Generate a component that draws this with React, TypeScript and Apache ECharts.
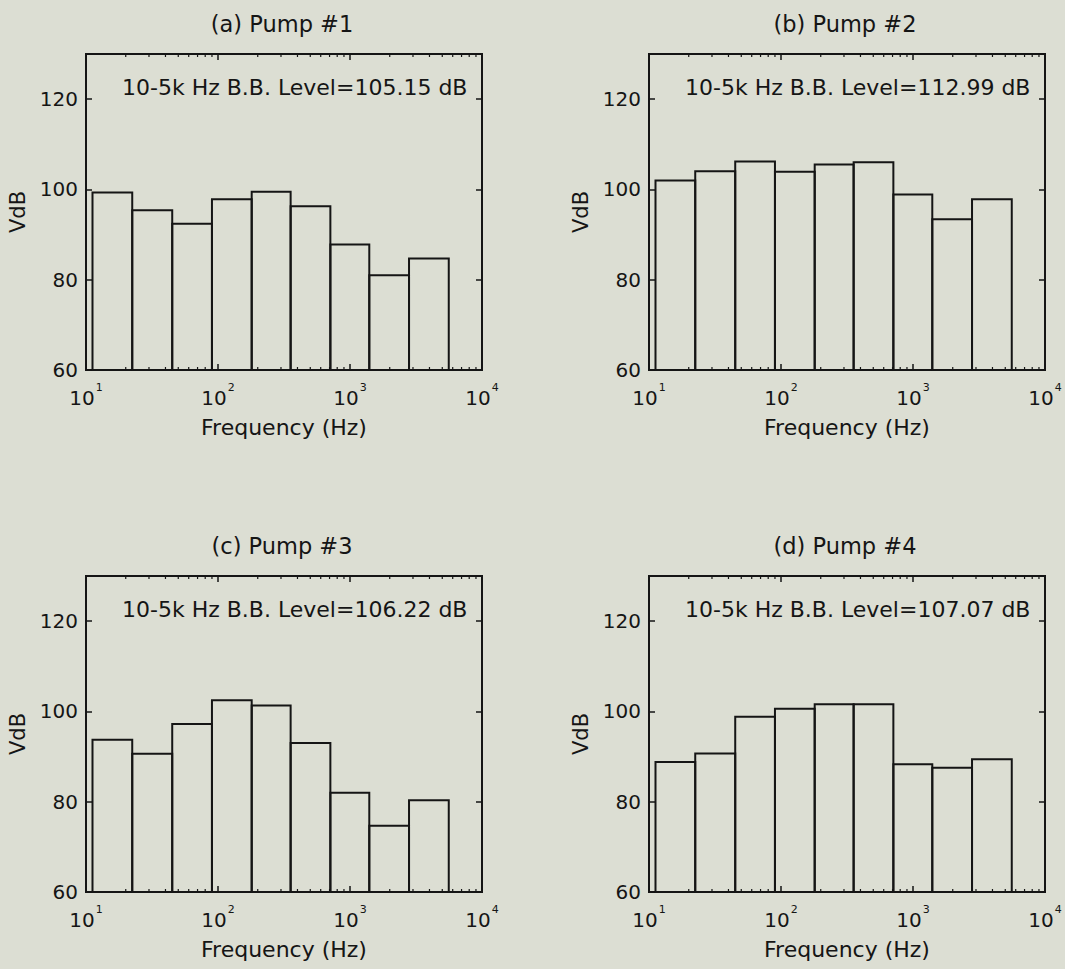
import React, { useEffect, useRef } from "react";
import * as echarts from "echarts";

// Octave band edges (Hz) — lower edge of each bar, plus final upper edge
const bandEdges = [11.2, 22.4, 45, 90, 180, 355, 710, 1400, 2800, 5600];

// Octave band levels (VdB) per pump
const pump1 = [99.3, 95.4, 92.4, 97.8, 99.5, 96.3, 87.8, 81.0, 84.7];
const pump2 = [102.0, 104.0, 106.2, 103.9, 105.5, 106.0, 98.9, 93.4, 97.8];
const pump3 = [93.7, 90.6, 97.2, 102.5, 101.3, 93.0, 82.0, 74.7, 80.3];
const pump4 = [88.8, 90.7, 98.8, 100.6, 101.6, 101.6, 88.3, 87.5, 89.4];

const panelTitles = ["(a) Pump #1", "(b) Pump #2", "(c) Pump #3", "(d) Pump #4"];
const bbLevels = ["105.15", "112.99", "106.22", "107.07"];

const yMin = 60;
const yMax = 130;
const yInterval = 20;
const xMin = 10;
const xMax = 10000;
const minorTickValues = [
  20, 30, 40, 50, 60, 70, 80, 90,
  200, 300, 400, 500, 600, 700, 800, 900,
  2000, 3000, 4000, 5000, 6000, 7000, 8000, 9000,
];

const FONT = "'DejaVu Sans', 'Liberation Sans', Arial, sans-serif";
const BG = "#dcded3";
const INK = "#151515";

const panels = [
  { left: 86, top: 54 },
  { left: 649, top: 54 },
  { left: 86, top: 576 },
  { left: 649, top: 576 },
];
const W = 396;
const H = 316;

export default function App() {
  const ref = useRef<HTMLDivElement>(null);

  useEffect(() => {
    if (!ref.current) return;
    document.body.style.margin = "0";
    document.body.style.background = BG;
    const chart = echarts.init(ref.current, null, { renderer: "svg" });
    const all = [pump1, pump2, pump3, pump4];

    const grid: any[] = [];
    const xAxis: any[] = [];
    const yAxis: any[] = [];
    const series: any[] = [];
    const graphic: any[] = [];

    panels.forEach((p, i) => {
      grid.push({
        left: p.left,
        top: p.top,
        width: W,
        height: H,
        show: true,
        borderColor: INK,
        borderWidth: 2,
        backgroundColor: "transparent",
        containLabel: false,
      });
      // bottom x (log)
      xAxis.push({
        type: "log",
        logBase: 10,
        gridIndex: i,
        min: xMin,
        max: xMax,
        position: "bottom",
        name: "Frequency (Hz)",
        nameLocation: "middle",
        nameGap: 46,
        nameTextStyle: { fontFamily: FONT, fontSize: 22, color: INK },
        axisLine: { show: true, lineStyle: { color: INK, width: 2 } },
        axisTick: { show: true, inside: true, length: 6, lineStyle: { color: INK, width: 1.5 } },
        splitLine: { show: false },
        axisLabel: {
          margin: 12,
          formatter: (v: number) => `{b|10}{s|${Math.round(Math.log10(v))}}`,
          rich: {
            b: { fontFamily: FONT, fontSize: 20, color: INK, lineHeight: 26, verticalAlign: "bottom" },
            s: { fontFamily: FONT, fontSize: 11, color: INK, lineHeight: 12, verticalAlign: "top", padding: [0, 0, 0, 1] },
          },
        },
      });
      // top x mirror
      xAxis.push({
        type: "log",
        logBase: 10,
        gridIndex: i,
        min: xMin,
        max: xMax,
        position: "top",
        axisLine: { show: true, lineStyle: { color: INK, width: 2 } },
        axisTick: { show: true, inside: true, length: 6, lineStyle: { color: INK, width: 1.5 } },
        axisLabel: { show: false },
        splitLine: { show: false },
      });
      yAxis.push({
        type: "value",
        gridIndex: i,
        min: yMin,
        max: yMax,
        interval: yInterval,
        position: "left",
        name: "VdB",
        nameLocation: "middle",
        nameGap: 58,
        nameTextStyle: { fontFamily: FONT, fontSize: 21, color: INK },
        axisLine: { show: true, lineStyle: { color: INK, width: 2 } },
        axisTick: { show: true, inside: true, length: 6, lineStyle: { color: INK, width: 1.5 } },
        axisLabel: {
          showMaxLabel: false,
          margin: 8,
          fontFamily: FONT,
          fontSize: 20,
          color: INK,
        },
        splitLine: { show: false },
      });
      yAxis.push({
        type: "value",
        gridIndex: i,
        min: yMin,
        max: yMax,
        interval: yInterval,
        position: "right",
        axisLine: { show: true, lineStyle: { color: INK, width: 2 } },
        axisTick: { show: true, inside: true, length: 6, lineStyle: { color: INK, width: 1.5 } },
        axisLabel: { show: false },
        splitLine: { show: false },
      });

      const data = all[i].map((v, k) => [bandEdges[k], bandEdges[k + 1], v]);
      series.push({
        type: "custom",
        xAxisIndex: i * 2,
        yAxisIndex: i * 2,
        encode: { x: [0, 1], y: 2 },
        data,
        renderItem: (params: any, api: any) => {
          const lo = api.value(0);
          const hi = api.value(1);
          const v = api.value(2);
          const p1 = api.coord([lo, v]);
          const p2 = api.coord([hi, yMin]);
          return {
            type: "rect",
            shape: { x: p1[0], y: p1[1], width: p2[0] - p1[0], height: p2[1] - p1[1] },
            style: { fill: "none", stroke: INK, lineWidth: 2 },
          };
        },
        silent: true,
        z: 3,
      });
      // minor log ticks (bottom & top)
      series.push({
        type: "custom",
        xAxisIndex: i * 2,
        yAxisIndex: i * 2,
        encode: { x: 0 },
        data: minorTickValues.map((m) => [m]),
        renderItem: (params: any, api: any) => {
          const b = api.coord([api.value(0), yMin]);
          const t = api.coord([api.value(0), yMax]);
          return {
            type: "group",
            children: [
              { type: "line", shape: { x1: b[0], y1: b[1], x2: b[0], y2: b[1] - 3 }, style: { stroke: INK, lineWidth: 1.2 } },
              { type: "line", shape: { x1: t[0], y1: t[1], x2: t[0], y2: t[1] + 3 }, style: { stroke: INK, lineWidth: 1.2 } },
            ],
          };
        },
        silent: true,
        z: 2,
      });

      graphic.push({
        type: "text",
        x: p.left + W / 2 - 2,
        y: p.top - 30,
        style: {
          text: panelTitles[i],
          font: `22.5px ${FONT}`,
          fill: INK,
          align: "center",
          verticalAlign: "middle",
        },
      });
      graphic.push({
        type: "text",
        x: p.left + 36,
        y: p.top + 33,
        style: {
          text: `10-5k Hz B.B. Level=${bbLevels[i]} dB`,
          font: `22px ${FONT}`,
          fill: INK,
          align: "left",
          verticalAlign: "middle",
        },
      });
    });

    chart.setOption({
      animation: false,
      backgroundColor: BG,
      grid,
      xAxis,
      yAxis,
      series,
      graphic,
    });

    return () => {
      chart.dispose();
    };
  }, []);

  return (
    <div
      ref={ref}
      style={{ position: "fixed", left: 0, top: 0, width: 1065, height: 969 }}
    />
  );
}
